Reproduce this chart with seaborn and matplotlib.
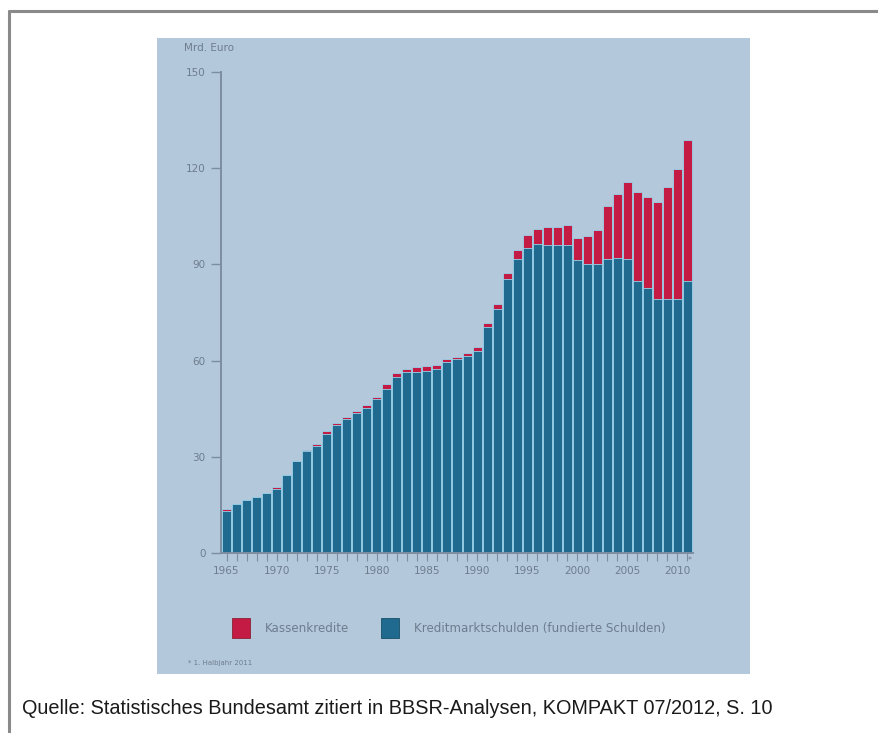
import matplotlib
matplotlib.use("Agg")
import matplotlib.pyplot as plt
from matplotlib import font_manager
from matplotlib.lines import Line2D
from matplotlib.patches import Rectangle, Patch
import seaborn as sns
import pandas as pd

# Kommunale Schulden in Mrd. Euro, 1965 bis 1. Halbjahr 2011
years = list(range(1965, 2012))
kreditmarktschulden = [
    13.1, 15.2, 16.4, 17.4, 18.6, 19.9, 24.4, 28.6, 31.7, 33.5,
    37.2, 40.0, 41.8, 43.6, 45.3, 47.9, 51.2, 54.8, 56.4, 56.6,
    56.9, 57.3, 59.6, 60.4, 61.4, 63.1, 70.4, 76.2, 85.4, 91.7,
    95.0, 96.4, 96.0, 96.0, 96.0, 91.4, 90.0, 90.0, 91.8, 92.0,
    91.8, 84.8, 82.5, 79.1, 79.1, 79.1, 84.8,
]
kassenkredite = [
    0.5, 0.0, 0.0, 0.0, 0.0, 0.6, 0.0, 0.0, 0.4, 0.5,
    0.8, 0.6, 0.7, 0.6, 0.8, 0.8, 1.4, 1.4, 0.9, 1.3,
    1.5, 1.4, 0.8, 0.8, 0.9, 1.2, 1.4, 1.4, 1.8, 2.8,
    4.2, 4.5, 5.7, 5.7, 6.3, 6.7, 8.8, 10.7, 16.4, 19.9,
    24.0, 27.9, 28.4, 30.3, 35.1, 40.5, 44.0,
]
year_labels = [str(y) for y in years]
major_labels = ["1965", "1970", "1975", "1980", "1985", "1990",
                "1995", "2000", "2005", "2010"]
yticks = [0, 30, 60, 90, 120, 150]

df = pd.DataFrame({
    "Jahr": year_labels,
    "Kreditmarktschulden": kreditmarktschulden,
    "Kassenkredite": kassenkredite,
})
df["Gesamt"] = df["Kreditmarktschulden"] + df["Kassenkredite"]

PANEL = "#b3c8db"
BLUE = "#1f6a8e"
RED = "#c31b43"
EDGE = "#9ad3ea"
GREY = "#6d7d8e"
AXIS = "#7d8ea0"

names = {f.name for f in font_manager.fontManager.ttflist}
narrow = "Liberation Sans Narrow" if "Liberation Sans Narrow" in names else "DejaVu Sans"

sns.set_theme(style="white")
plt.rcParams["font.family"] = [narrow, "DejaVu Sans"]

W, H = 879, 733
fig = plt.figure(figsize=(W / 100, H / 100), dpi=100, facecolor="white")

def fx(px):
    return px / W

def fy(py):
    return 1 - py / H

# outer frame (left and top rule)
fig.add_artist(Line2D([fx(9), fx(9)], [fy(11), 0], color="#8a8a8a", lw=2.2))
fig.add_artist(Line2D([fx(9), 1], [fy(11), fy(11)], color="#8a8a8a", lw=2.2))

# light blue panel
fig.add_artist(Rectangle((fx(157), fy(674)), fx(750) - fx(157), fy(38) - fy(674),
                         facecolor=PANEL, edgecolor="none", zorder=0))

ax = fig.add_axes([fx(221), fy(553), fx(693) - fx(221), fy(72) - fy(553)])
ax.patch.set_visible(False)

sns.barplot(data=df, x="Jahr", y="Gesamt", color=RED, saturation=1, width=0.9,
            edgecolor=EDGE, linewidth=0.6, ax=ax)
sns.barplot(data=df, x="Jahr", y="Kreditmarktschulden", color=BLUE, saturation=1,
            width=0.9, edgecolor=EDGE, linewidth=0.6, ax=ax)

ax.set_xlim(-0.55, len(years) - 0.45)
ax.set_ylim(0, 150)
ax.set_yticks(yticks)
ax.set_yticklabels([str(v) for v in yticks])
major_pos = [year_labels.index(l) for l in major_labels]
ax.set_xticks(major_pos)
ax.set_xticklabels(major_labels)
ax.set_xticks(range(len(years)), minor=True)
ax.set_xlabel("")
ax.set_ylabel("")

for side in ("top", "right"):
    ax.spines[side].set_visible(False)
for side in ("left", "bottom"):
    ax.spines[side].set_color(AXIS)
    ax.spines[side].set_linewidth(1.4)

ax.tick_params(axis="y", which="major", length=7, width=1.0, color=AXIS,
               labelsize=7.5, labelcolor=GREY, pad=4, left=True)
ax.tick_params(axis="x", which="major", length=6, width=0.8, color=AXIS,
               labelsize=7.5, labelcolor=GREY, pad=3, bottom=True)
ax.tick_params(axis="x", which="minor", length=6, width=0.8, color=AXIS, bottom=True)

# marker for the half-year value 2011
ax.text(len(years) - 0.75, -0.8, "*", ha="center", va="top", fontsize=5.5, color=GREY)

fig.text(fx(184), fy(48), "Mrd. Euro", ha="left", va="center", fontsize=7.5, color=GREY)

handles = [Patch(facecolor=RED, edgecolor="#8a2035", linewidth=0.6),
           Patch(facecolor=BLUE, edgecolor="#184e68", linewidth=0.6)]
fig.legend(handles, ["Kassenkredite", "Kreditmarktschulden (fundierte Schulden)"],
           loc="center left", bbox_to_anchor=(fx(221), fy(628)), ncol=2,
           frameon=False, fontsize=8.6, labelcolor=GREY,
           handlelength=1.55, handleheight=2.3, handletextpad=1.25, columnspacing=2.6)

fig.text(fx(188), fy(663), "* 1. Halbjahr 2011", ha="left", va="center",
         fontsize=5, color=GREY)

fig.text(fx(22), fy(709), "Quelle: Statistisches Bundesamt zitiert in BBSR-Analysen, "
         "KOMPAKT 07/2012, S. 10", ha="left", va="center", fontsize=14.3,
         color="#1a1a1a", family=["Liberation Sans", "DejaVu Sans"])

fig.savefig("out.png", dpi=100, facecolor="white")
